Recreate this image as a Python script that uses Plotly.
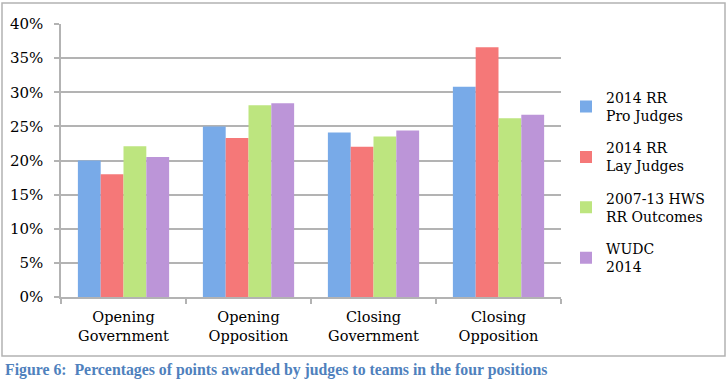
import plotly.graph_objects as go

categories = ["Opening<br>Government", "Opening<br>Opposition", "Closing<br>Government", "Closing<br>Opposition"]
series_names = ["2014 RR<br>Pro Judges", "2014 RR<br>Lay Judges", "2007-13 HWS<br>RR Outcomes", "WUDC<br>2014"]
pro_judges = [0.200, 0.250, 0.241, 0.308]
lay_judges = [0.180, 0.233, 0.220, 0.366]
hws_outcomes = [0.221, 0.281, 0.235, 0.262]
wudc_2014 = [0.205, 0.284, 0.244, 0.267]
y_ticks = [0, 0.05, 0.10, 0.15, 0.20, 0.25, 0.30, 0.35, 0.40]
caption = "Figure 6:  Percentages of points awarded by judges to teams in the four positions"

series_values = [pro_judges, lay_judges, hws_outcomes, wudc_2014]
colors = ["#78aae8", "#f57878", "#bde57f", "#bc95d8"]

FONT = "DejaVu Serif"

fig = go.Figure()
for i, (name, vals, col) in enumerate(zip(series_names, series_values, colors)):
    fig.add_trace(go.Bar(
        x=categories, y=vals, name=name, marker=dict(color=col, line=dict(width=0)),
        legendgroup=f"g{i}",
    ))

fig.update_layout(
    width=727, height=381,
    margin=dict(l=61, r=166, t=24, b=84, autoexpand=False),
    paper_bgcolor="white", plot_bgcolor="white",
    barmode="group", bargap=0.27, bargroupgap=0,
    font=dict(family=FONT, size=14.5, color="#000000"),
    showlegend=True,
    legend=dict(x=1.01, xanchor="left", y=0.42, yanchor="middle",
                font=dict(family=FONT, size=14), tracegroupgap=11,
                itemwidth=30, bgcolor="rgba(0,0,0,0)"),
    xaxis=dict(showline=True, linecolor="#b3b3b3", linewidth=1.5, automargin=False,
               ticks="outside", tickson="boundaries", ticklen=5, tickcolor="#b3b3b3",
               tickwidth=1.5, tickfont=dict(family=FONT, size=14.5), showgrid=False,
               ticklabelstandoff=6),
    yaxis=dict(range=[0, 0.40], tickvals=y_ticks, tickformat=".0%", automargin=False,
               showline=True, linecolor="#b3b3b3", linewidth=1.5,
               ticks="outside", ticklen=5, tickcolor="#b3b3b3", tickwidth=1.5,
               showgrid=True, gridcolor="#b3b3b3", gridwidth=1.5,
               tickfont=dict(family=FONT, size=15), ticklabelstandoff=8,
               zeroline=False),
    shapes=[dict(type="rect", xref="paper", yref="paper",
                 x0=-0.118, x1=1.328, y0=-0.216, y1=1.077,
                 line=dict(color="#b3b3b3", width=1.5), fillcolor="rgba(0,0,0,0)", layer="below")],
    annotations=[dict(text="<b>" + caption + "</b>", xref="paper", yref="paper",
                      x=-0.116, y=-0.267, xanchor="left", yanchor="middle", showarrow=False,
                      font=dict(family="Liberation Serif", size=15.8, color="#4f81bd"))],
)

fig.write_html("out.html", config={"displayModeBar": False},
               post_script="document.body.style.margin='0';")
